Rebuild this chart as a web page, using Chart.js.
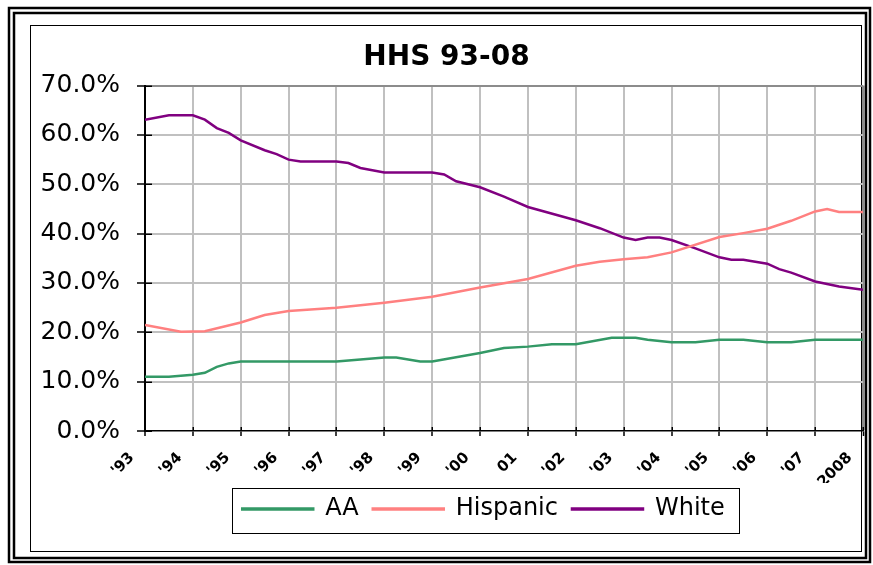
<!DOCTYPE html>
<html>
<head>
<meta charset="utf-8">
<title>HHS 93-08</title>
<script src="https://cdn.jsdelivr.net/npm/chart.js@4.4.1/dist/chart.umd.min.js"></script>
<style>
  html, body { margin: 0; padding: 0; background: #fff; }
  #wrap { width: 873px; height: 565px; position: relative; }
</style>
</head>
<body>
<div id="wrap"><canvas id="chart"></canvas></div>
<script>
// Year tick labels along the bottom axis (1993 .. 2008)
const yearLabels = ["'93", "'94", "'95", "'96", "'97", "'98", "'99", "'00",
                    "01", "'02", "'03", "'04", "'05", "'06", "'07", "2008"];
const firstYear = 1993;
const lastYear = 2008;

// Share of enrolment (%) per group, sampled where each line changes slope
const aaYears = [1993, 1993.5, 1994, 1994.25, 1994.5, 1994.75, 1995, 1997, 1998, 1998.25,
                 1998.75, 1999, 2000, 2000.5, 2001, 2001.5, 2002, 2002.75, 2003.25, 2003.5,
                 2004, 2004.5, 2005, 2005.5, 2006, 2006.5, 2007, 2008];
const aaShare = [11.0, 11.0, 11.4, 11.8, 13.0, 13.7, 14.1, 14.1, 14.9, 14.9,
                 14.1, 14.1, 15.8, 16.8, 17.1, 17.6, 17.6, 18.9, 18.9, 18.5,
                 18.0, 18.0, 18.5, 18.5, 18.0, 18.0, 18.5, 18.5];

const hispanicYears = [1993, 1993.75, 1994.25, 1995, 1995.5, 1996, 1997, 1998, 1999, 2000,
                       2001, 2002, 2002.5, 2003, 2003.5, 2004, 2005, 2005.5, 2006, 2006.5,
                       2007, 2007.25, 2007.5, 2008];
const hispanicShare = [21.5, 20.1, 20.2, 22.0, 23.5, 24.3, 25.0, 26.0, 27.2, 29.1,
                       30.8, 33.5, 34.3, 34.8, 35.2, 36.2, 39.3, 40.1, 41.0, 42.6,
                       44.5, 45.0, 44.4, 44.4];

const whiteYears = [1993, 1993.5, 1994, 1994.25, 1994.5, 1994.75, 1995, 1995.5, 1995.75, 1996,
                    1996.25, 1997, 1997.25, 1997.5, 1998, 1999, 1999.25, 1999.5, 2000, 2000.5,
                    2001, 2002, 2002.5, 2003, 2003.25, 2003.5, 2003.75, 2004, 2004.5, 2005,
                    2005.25, 2005.5, 2006, 2006.25, 2006.5, 2007, 2007.25, 2007.5, 2008];
const whiteShare = [63.1, 64.0, 64.0, 63.1, 61.4, 60.4, 58.9, 56.9, 56.1, 55.0,
                    54.6, 54.6, 54.3, 53.3, 52.4, 52.4, 52.0, 50.6, 49.4, 47.5,
                    45.4, 42.7, 41.1, 39.2, 38.7, 39.2, 39.2, 38.7, 37.0, 35.2,
                    34.7, 34.7, 33.9, 32.8, 32.1, 30.3, 29.8, 29.3, 28.6];

const toPoints = (xs, ys) => xs.map((x, i) => ({ x: x, y: ys[i] }));

const FONT = 'DejaVu Sans';
const GRID = '#c0c0c0';
const EDGE = '#8c8c8c';
const LEGEND_SHIFT = 37;

// Page frame, chart border, axis tick stubs and the legend outline
const decorations = {
  id: 'decorations',
  beforeDraw(chart) {
    const ctx = chart.ctx;
    ctx.save();
    ctx.fillStyle = '#fff';
    ctx.fillRect(0, 0, chart.width, chart.height);
    ctx.strokeStyle = '#000';
    ctx.lineWidth = 2.5;
    ctx.strokeRect(9, 8, 861, 554);
    ctx.strokeRect(14, 13, 852, 545);
    ctx.lineWidth = 1;
    ctx.strokeRect(30.5, 25.5, 831, 526);
    ctx.restore();
  },
  afterLayout(chart) {
    chart.legend.left += LEGEND_SHIFT;
    chart.legend.right += LEGEND_SHIFT;
  },
  beforeDatasetsDraw(chart) {
    const ctx = chart.ctx;
    const xs = chart.scales.x, ys = chart.scales.y;
    ctx.save();
    ctx.strokeStyle = '#000';
    ctx.lineWidth = 1.5;
    ctx.beginPath();
    ys.ticks.forEach(t => {
      const py = Math.round(ys.getPixelForValue(t.value)) + 0.25;
      ctx.moveTo(ys.right, py);
      ctx.lineTo(ys.right + 7, py);
    });
    xs.ticks.forEach(t => {
      const px = Math.round(xs.getPixelForValue(t.value)) + 0.25;
      ctx.moveTo(px, xs.top);
      ctx.lineTo(px, xs.top - 4);
    });
    ctx.stroke();
    ctx.restore();
  },
  afterDraw(chart) {
    const boxes = chart.legend.legendHitBoxes;
    if (!boxes || !boxes.length) return;
    const left = Math.min(...boxes.map(b => b.left)) - 10;
    const right = Math.max(...boxes.map(b => b.left + b.width)) + 14;
    const cy = boxes[0].top + boxes[0].height / 2;
    const ctx = chart.ctx;
    ctx.save();
    ctx.strokeStyle = '#000';
    ctx.lineWidth = 1;
    ctx.strokeRect(Math.round(left) + 0.5, Math.round(cy - 21) + 0.5,
                   Math.round(right - left), 45);
    ctx.restore();
  }
};

Chart.defaults.color = '#000';

new Chart(document.getElementById('chart'), {
  type: 'line',
  data: {
    datasets: [
      { label: 'AA', data: toPoints(aaYears, aaShare),
        borderColor: '#339966', backgroundColor: '#339966' },
      { label: 'Hispanic', data: toPoints(hispanicYears, hispanicShare),
        borderColor: '#ff8080', backgroundColor: '#ff8080' },
      { label: 'White', data: toPoints(whiteYears, whiteShare),
        borderColor: '#800080', backgroundColor: '#800080' }
    ]
  },
  options: {
    responsive: true,
    maintainAspectRatio: false,
    animation: false,
    events: [],
    layout: { padding: { left: 30, right: 10, top: 25, bottom: 34 } },
    elements: {
      line: { borderWidth: 2.5, tension: 0, fill: false },
      point: { radius: 0 }
    },
    plugins: {
      title: {
        display: true,
        text: 'HHS 93-08',
        color: '#000',
        font: { family: FONT, size: 28, weight: 'bold' },
        padding: { top: 16, bottom: 11 }
      },
      legend: {
        display: true,
        position: 'bottom',
        labels: {
          color: '#000',
          font: { family: FONT, size: 24 },
          boxWidth: 71,
          boxHeight: 1,
          padding: 14
        }
      },
      tooltip: { enabled: false }
    },
    scales: {
      x: {
        type: 'linear',
        min: firstYear,
        max: lastYear,
        afterFit(scale) {
          scale.height = 52;
          scale.paddingLeft = 0;
          scale.paddingRight = 0;
        },
        grid: {
          color: c => (c.tick && c.tick.value === firstYear) ? 'rgba(0,0,0,0)'
                    : (c.tick && c.tick.value === lastYear) ? EDGE : GRID,
          lineWidth: c => (c.tick && c.tick.value === lastYear) ? 3 : 2,
          tickColor: '#000',
          tickWidth: 1.5,
          tickLength: 5
        },
        border: { display: true, color: '#000', width: 1.5 },
        ticks: {
          stepSize: 1,
          autoSkip: false,
          maxRotation: 45,
          minRotation: 45,
          padding: 13,
          labelOffset: -13,
          color: '#000',
          font: { family: FONT, size: 15, weight: 'bold' },
          callback: v => yearLabels[Math.round(v) - firstYear]
        }
      },
      y: {
        min: 0,
        max: 70,
        afterFit(scale) { scale.width = 115; },
        grid: {
          color: c => (c.tick && c.tick.value === 0) ? 'rgba(0,0,0,0)'
                    : (c.tick && c.tick.value === 70) ? EDGE : GRID,
          lineWidth: 2,
          tickColor: '#000',
          tickWidth: 1.5,
          tickLength: 8
        },
        border: { display: true, color: '#000', width: 2 },
        ticks: {
          stepSize: 10,
          padding: 17,
          color: '#000',
          font: { family: FONT, size: 25 },
          callback: v => v.toFixed(1) + '%'
        }
      }
    }
  },
  plugins: [decorations]
});
</script>
</body>
</html>
